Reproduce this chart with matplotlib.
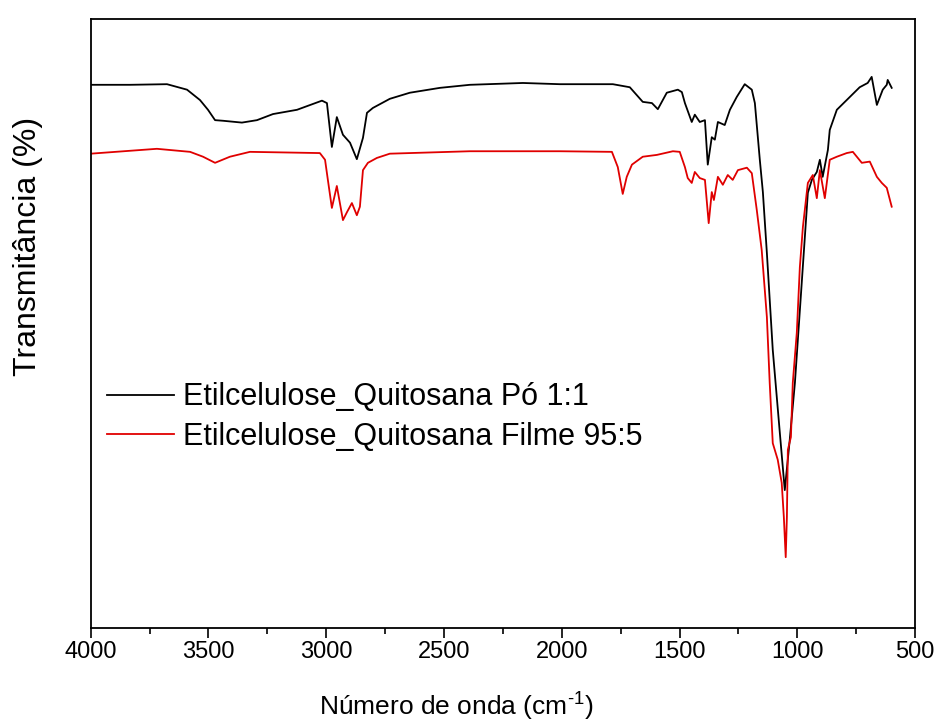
import matplotlib
matplotlib.use("Agg")
import matplotlib.pyplot as plt
from matplotlib.ticker import MultipleLocator

plt.rcParams['font.family'] = ['Liberation Sans', 'DejaVu Sans']
plt.rcParams['mathtext.fontset'] = 'custom'
plt.rcParams['mathtext.rm'] = 'Liberation Sans'

# FTIR spectra: wavenumber (cm-1) and transmittance (arbitrary %)
po_wavenumber = [4000, 3833, 3676, 3591, 3536, 3502, 3472, 3438, 3358, 3294, 3226, 3124,
                 3018, 2997, 2976, 2955, 2929, 2899, 2870, 2844, 2827, 2802, 2730, 2645,
                 2517, 2390, 2165, 2008, 1783, 1711, 1656, 1617, 1592, 1554, 1507, 1490,
                 1477, 1448, 1435, 1414, 1392, 1380, 1363, 1350, 1337, 1308, 1286, 1257,
                 1223, 1193, 1180, 1159, 1146, 1129, 1104, 1074, 1053, 1032, 1010, 981,
                 955, 938, 917, 904, 892, 870, 862, 832, 790, 735, 701, 684, 662, 637,
                 620, 616, 599]
po_transmit = [89.2, 89.2, 89.3, 88.4, 86.7, 85.1, 83.4, 83.3, 83.0, 83.4, 84.4, 85.1,
               86.6, 86.2, 79.0, 83.9, 81.0, 79.7, 77.0, 80.5, 84.6, 85.4, 86.9, 87.9,
               88.7, 89.2, 89.5, 89.3, 89.3, 88.8, 86.4, 86.2, 85.2, 87.9, 88.4, 88.0,
               86.2, 83.1, 84.3, 83.1, 83.4, 76.1, 80.6, 80.2, 83.1, 82.6, 85.1, 87.2,
               89.3, 88.4, 86.2, 76.9, 71.6, 61.6, 45.7, 32.1, 22.7, 30.9, 40.3, 56.7,
               71.5, 73.6, 74.9, 76.9, 74.1, 78.5, 81.8, 85.1, 86.7, 88.8, 89.5, 90.5,
               85.9, 88.4, 89.2, 90.0, 88.7]

filme_wavenumber = [4000, 3719, 3578, 3523, 3472, 3409, 3324, 3027, 3005, 2993, 2976, 2955,
                    2929, 2912, 2891, 2870, 2857, 2844, 2823, 2785, 2730, 2390, 2008, 1787,
                    1762, 1741, 1724, 1702, 1656, 1596, 1528, 1499, 1477, 1465, 1448, 1435,
                    1414, 1392, 1376, 1363, 1354, 1337, 1316, 1295, 1274, 1252, 1214, 1193,
                    1172, 1151, 1129, 1117, 1104, 1083, 1066, 1057, 1049, 1044, 1040, 1027,
                    1019, 1002, 989, 976, 955, 934, 917, 904, 883, 862, 832, 790, 764, 726,
                    692, 662, 641, 620, 599]
filme_transmit = [77.9, 78.7, 78.2, 77.4, 76.4, 77.4, 78.2, 78.0, 76.9, 73.6, 69.0, 72.6,
                  67.0, 68.3, 69.8, 67.8, 69.2, 75.2, 76.4, 77.2, 77.9, 78.3, 78.3, 78.2,
                  75.7, 71.3, 74.1, 76.1, 77.4, 77.7, 78.3, 78.2, 75.7, 73.9, 73.1, 74.9,
                  73.9, 73.6, 66.5, 71.6, 70.3, 74.1, 72.8, 74.4, 73.6, 75.2, 75.6, 74.7,
                  68.7, 62.1, 51.1, 40.3, 30.4, 27.7, 23.9, 18.3, 11.7, 18.3, 29.3, 31.4,
                  40.3, 48.5, 59.3, 65.9, 73.1, 74.4, 70.6, 75.2, 70.6, 76.9, 77.4, 78.0,
                  78.2, 76.4, 76.6, 74.1, 73.1, 72.3, 69.2]

labels = ["Etilcelulose_Quitosana Pó 1:1", "Etilcelulose_Quitosana Filme 95:5"]
colors = ["black", "#e00000"]

fig = plt.figure(figsize=(9.38, 7.27), dpi=100)
ax = fig.add_axes([0.0967, 0.1355, 0.8788, 0.8384])

ax.plot(po_wavenumber, po_transmit, color=colors[0], lw=1.3, label=labels[0])
ax.plot(filme_wavenumber, filme_transmit, color=colors[1], lw=1.3, label=labels[1])

ax.set_xlim(4000, 500)
ax.set_ylim(0, 100)
ax.xaxis.set_major_locator(MultipleLocator(500))
ax.xaxis.set_minor_locator(MultipleLocator(250))
ax.tick_params(axis='x', which='major', direction='out', length=7.5, width=1.2,
               labelsize=17, pad=1.5)
ax.tick_params(axis='x', which='minor', direction='out', length=4.5, width=1.2)
ax.tick_params(axis='y', left=False, labelleft=False)
for s in ax.spines.values():
    s.set_linewidth(1.3)

fig.text(456 / 938, 1 - 706 / 727, "Número de onda (cm$^{\\text{-1}}$)",
         fontsize=19, ha='center', va='center')
fig.text(28 / 938, 1 - 246 / 727, "Transmitância (%)", fontsize=23,
         rotation=90, ha='center', va='center')

ax.legend(loc='center left', bbox_to_anchor=(0.0198, 0.347), frameon=False,
          fontsize=22, handlelength=2.2, handletextpad=0.3, labelspacing=0.3,
          borderpad=0, borderaxespad=0)

fig.savefig("out.png", dpi=100)
